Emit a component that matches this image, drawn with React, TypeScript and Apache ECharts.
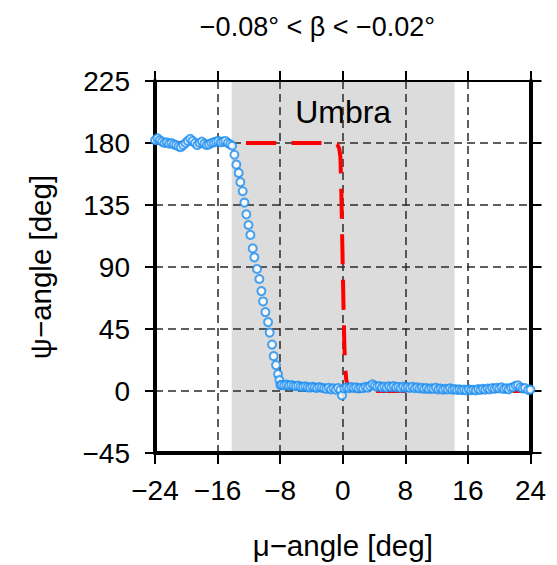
import React, { useEffect, useRef } from "react";
import * as echarts from "echarts";

const titleText = "\u22120.08\u00b0 < \u03b2 < \u22120.02\u00b0";
const xName = "\u03bc\u2212angle [deg]";
const yName = "\u03c8\u2212angle [deg]";
const umbraLabel = "Umbra";
const umbraRange = [-14.2, 14.3];

// blue circles: measured psi vs mu
const blueMu = [
  -24.0, -23.7, -23.4, -23.1, -22.8, -22.5, -22.2, -21.9, -21.6, -21.3, -21.0, -20.7, -20.4, -20.1, -19.8, -19.5,
  -19.2, -18.9, -18.6, -18.3, -18.0, -17.7, -17.4, -17.1, -16.8, -16.5, -16.2, -15.9, -15.6, -15.3, -15.0, -14.7, -14.4,
  -14.14, -13.85, -13.6, -13.3, -13.09, -12.79, -12.57, -12.32, -12.05, -11.81, -11.51, -11.3, -10.96, -10.66, -10.4,
  -10.19, -9.89, -9.55, -9.34, -9.04, -8.83, -8.53, -8.27, -8.1, -7.98,
  -7.8, -7.5, -7.2, -6.9, -6.6, -6.3, -6.0, -5.7, -5.4, -5.1, -4.8, -4.5, -4.2, -3.9, -3.6, -3.3, -3.0, -2.7, -2.4,
  -2.1, -1.8, -1.5, -1.2, -0.9, -0.6, -0.3, -0.1, 0.2, 0.5, 0.8, 1.1, 1.4, 1.7, 2.0, 2.3, 2.6, 2.9, 3.2, 3.5, 3.8,
  4.1, 4.4, 4.7, 5.0, 5.3, 5.6, 5.9, 6.2, 6.5, 6.8, 7.1, 7.4, 7.7, 8.0, 8.3, 8.6, 8.9, 9.2, 9.5, 9.8, 10.1, 10.4,
  10.7, 11.0, 11.3, 11.6, 11.9, 12.2, 12.5, 12.8, 13.1, 13.4, 13.7, 14.0, 14.3, 14.6, 14.9, 15.2, 15.5, 15.8, 16.1,
  16.4, 16.7, 17.0, 17.3, 17.6, 17.9, 18.2, 18.5, 18.8, 19.1, 19.4, 19.7, 20.0, 20.3, 20.6, 20.9, 21.2, 21.5, 21.8,
  22.1, 22.4, 22.7, 23.0, 23.3, 23.7, 24.0,
];
const bluePsi = [
  182, 183.5, 182, 181, 180, 180.5, 179.5, 180, 179, 178.5, 177.5, 177, 178.5, 180, 181.5, 183,
  181.5, 180, 178.5, 180, 181, 179.5, 178.5, 179, 180, 180.5, 181, 181.5, 180.5, 181, 181.5, 180, 179,
  178, 171.5, 164.3, 158.3, 151.6, 145, 136.7, 128.2, 120.5, 113.3, 103.5, 97, 88.6, 81.3, 72.5,
  65, 57.3, 50, 42.4, 33.7, 25.3, 18.8, 12.3, 8, 4.3,
  4.5, 4.2, 4.6, 4.0, 4.4, 3.8, 3.5, 3.9, 3.2, 3.0, 3.4, 2.8, 2.5, 3.0, 2.6, 2.2, 2.9, 2.4, 2.0,
  1.6, 2.4, 1.2, 2.0, 1.0, 2.2, 0.8, -3.2, 1.8, 2.6, 2.0, 2.8, 2.2, 2.6, 1.8, 2.4, 2.0, 3.0, 2.4, 3.6, 4.8,
  3.8, 3.0, 3.6, 2.6, 3.2, 2.4, 3.4, 2.8, 3.6, 2.6, 3.0, 2.2, 3.2, 2.4, 2.8, 2.2, 3.0, 2.0, 2.6, 1.8, 2.4, 1.6,
  2.2, 1.4, 2.0, 1.6, 2.4, 1.2, 1.8, 1.0, 1.6, 1.2, 2.0, 1.0, 1.4, 0.8, 1.2, 0.6, 1.0, 0.4, 1.2,
  0.6, 0.9, 0.4, 1.4, 0.8, 1.6, 1.0, 1.8, 1.2, 2.2, 1.6, 2.4, 1.8, 2.6, 1.4, 2.0, 1.2, 2.4, 2.8,
  3.8, 4.2, 2.6, 1.8, 2.2, 0.8, 1.0,
];

// red dashed model curve
const redMu = [-24, -1.2, -0.7, -0.45, -0.3, -0.2, -0.1, 0, 0.1, 0.2, 0.3, 0.45, 0.7, 1.1, 2, 24];
const redPsi = [180, 180, 179, 176, 170, 150, 120, 90, 60, 35, 18, 8, 3, 1, 0, 0];

const FONT = "'Liberation Sans', Arial, Helvetica, sans-serif";
const fmt = (v: number) => String(v).replace("-", "\u2212");

export default function App() {
  const ref = useRef<HTMLDivElement>(null);
  useEffect(() => {
    if (!ref.current) return;
    const chart = echarts.init(ref.current, undefined, { renderer: "svg" });
    const blueData = blueMu.map((m, i) => [m, bluePsi[i]]);
    const redData = redMu.map((m, i) => [m, redPsi[i]]);
    const tickStyle = { show: true, inside: false, length: 10, lineStyle: { color: "#000", width: 2 } };
    const splitStyle = { show: true, lineStyle: { color: "#2a2a2a", width: 1.5, type: [8, 5] as any } };
    chart.setOption({
      animation: false,
      backgroundColor: "#fff",
      textStyle: { fontFamily: FONT },
      grid: { left: 155, right: 26.5, top: 81, bottom: 109, containLabel: false },
      xAxis: [
        {
          type: "value",
          position: "bottom",
          z: 2,
          min: -24,
          max: 24,
          interval: 8,
          name: xName,
          nameLocation: "middle",
          nameGap: 77,
          nameTextStyle: { fontSize: 29.5, color: "#000", fontFamily: FONT },
          axisLine: { show: true, onZero: false, lineStyle: { color: "#000", width: 4 } },
          axisTick: { ...tickStyle, length: 11 },
          axisLabel: { fontSize: 28, color: "#000", margin: 23, formatter: fmt, fontFamily: FONT },
          splitLine: splitStyle,
        },
        {
          type: "value",
          position: "top",
          z: 2,
          min: -24,
          max: 24,
          interval: 8,
          axisLine: { show: true, onZero: false, lineStyle: { color: "#000", width: 2 } },
          axisTick: tickStyle,
          axisLabel: { show: false },
          splitLine: { show: false },
        },
      ],
      yAxis: [
        {
          type: "value",
          position: "left",
          z: 2,
          min: -45,
          max: 225,
          interval: 45,
          name: yName,
          nameLocation: "middle",
          nameGap: 100,
          nameTextStyle: { fontSize: 29.5, color: "#000", fontFamily: FONT },
          axisLine: { show: true, onZero: false, lineStyle: { color: "#000", width: 4 } },
          axisTick: tickStyle,
          axisLabel: { fontSize: 28, color: "#000", margin: 25, formatter: fmt, fontFamily: FONT },
          splitLine: splitStyle,
        },
        {
          type: "value",
          position: "right",
          z: 2,
          min: -45,
          max: 225,
          interval: 45,
          axisLine: { show: true, onZero: false, lineStyle: { color: "#000", width: 4 } },
          axisTick: { ...tickStyle, length: 11 },
          axisLabel: { show: false },
          splitLine: { show: false },
        },
      ],
      graphic: [
        {
          type: "text",
          x: 317.5,
          y: 27,
          style: {
            text: titleText,
            fontSize: 27,
            fontFamily: FONT,
            fill: "#000",
            textAlign: "center",
            textVerticalAlign: "middle",
          },
        },
      ],
      series: [
        {
          type: "line",
          xAxisIndex: 0,
          yAxisIndex: 0,
          z: 1,
          data: [],
          markArea: {
            silent: true,
            z: 1,
            itemStyle: { color: "#dcdcdc" },
            label: {
              show: true,
              position: "insideTop",
              distance: 15,
              formatter: umbraLabel,
              fontSize: 32,
              color: "#000",
              fontFamily: FONT,
            },
            data: [[{ xAxis: umbraRange[0] }, { xAxis: umbraRange[1] }]],
          },
        },
        {
          type: "line",
          xAxisIndex: 0,
          yAxisIndex: 0,
          z: 3,
          data: redData,
          showSymbol: false,
          symbol: "none",
          lineStyle: { color: "#ff0000", width: 4, type: [30, 15.5] as any, cap: "butt" },
        },
        {
          type: "scatter",
          xAxisIndex: 0,
          yAxisIndex: 0,
          z: 4,
          data: blueData,
          symbol: "circle",
          symbolSize: 8,
          itemStyle: { color: "#fff", borderColor: "#1e8ff0", borderWidth: 2 },
        },
      ],
    });
    return () => chart.dispose();
  }, []);
  return <div ref={ref} style={{ width: 557, height: 565, marginLeft: -8, marginTop: -8 }} />;
}
